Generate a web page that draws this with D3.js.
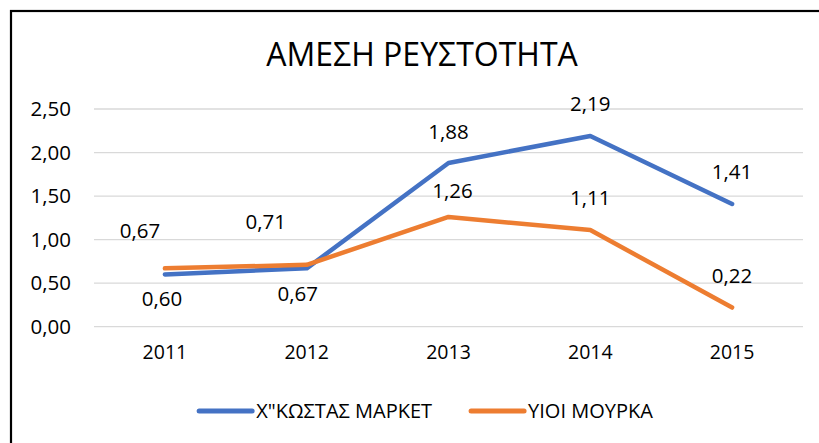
<!DOCTYPE html>
<html>
<head>
<meta charset="utf-8">
<script src="https://cdn.jsdelivr.net/npm/d3@7"></script>
<style>
  body { margin: 0; background: #fff; }
  text { font-family: "Open Sans", sans-serif; fill: #000; }
</style>
</head>
<body>
<script>
// chart data
var years = ["2011", "2012", "2013", "2014", "2015"];
var seriesNames = ["Χ\"ΚΩΣΤΑΣ ΜΑΡΚΕΤ", "ΥΙΟΙ ΜΟΥΡΚΑ"];
var kostasValues = [0.60, 0.67, 1.88, 2.19, 1.41];
var mourkaValues = [0.67, 0.71, 1.26, 1.11, 0.22];
var yTicks = [0, 0.5, 1, 1.5, 2, 2.5];
var title = "ΑΜΕΣΗ ΡΕΥΣΤΟΤΗΤΑ";

// label placement (label centre relative to the point), as in the original
var kostasLabelOffsets = [[-3, 24], [-9, 25], [0, -31], [0, -32], [0, -32]];
var mourkaLabelOffsets = [[-25, -38], [-41, -43], [4, -26], [0, -32], [0, -32]];

var colors = ["#4472C4", "#ED7D31"];

var width = 819, height = 443;

var svg = d3.select("body").append("svg")
    .attr("width", width)
    .attr("height", height);

// outer chart border (right and bottom fall outside the picture)
svg.append("rect")
    .attr("x", 11)
    .attr("y", 11)
    .attr("width", 900)
    .attr("height", 600)
    .attr("fill", "none")
    .attr("stroke", "#000")
    .attr("stroke-width", 2.2);

var x = d3.scaleBand()
    .domain(years)
    .range([94, 803]);

var y = d3.scaleLinear()
    .domain([0, 2.5])
    .range([326.7, 109]);

var fmt = function(v) { return d3.format(".2f")(v).replace(".", ","); };

svg.append("text")
    .attr("x", 422)
    .attr("y", 66)
    .attr("text-anchor", "middle")
    .attr("font-size", 32)
    .attr("font-weight", 400)
    .text(title);

// gridlines
svg.selectAll(".grid")
    .data(yTicks)
    .enter().append("line")
    .attr("x1", 94)
    .attr("x2", 803)
    .attr("y1", function(d) { return y(d); })
    .attr("y2", function(d) { return y(d); })
    .attr("stroke", "#D9D9D9")
    .attr("stroke-width", 1.3);

// y axis labels
var yAxis = d3.axisLeft(y)
    .tickValues(yTicks)
    .tickSize(0)
    .tickPadding(0)
    .tickFormat(fmt);

var yg = svg.append("g")
    .attr("transform", "translate(71,0)")
    .call(yAxis);
yg.select(".domain").remove();
yg.selectAll("text")
    .attr("font-size", 20.5)
    .attr("font-family", "Open Sans")
    .attr("fill", "#000");

// x axis labels
var xAxis = d3.axisBottom(x)
    .tickSize(0)
    .tickPadding(0);

var xg = svg.append("g")
    .attr("transform", "translate(0,345)")
    .call(xAxis);
xg.select(".domain").remove();
xg.selectAll("text")
    .attr("font-size", 19.5)
    .attr("font-family", "Open Sans")
    .attr("fill", "#000");

var line = d3.line()
    .x(function(d, i) { return x(years[i]) + x.bandwidth() / 2; })
    .y(function(d) { return y(d); });

var allSeries = [
  { name: seriesNames[0], values: kostasValues, offsets: kostasLabelOffsets, color: colors[0] },
  { name: seriesNames[1], values: mourkaValues, offsets: mourkaLabelOffsets, color: colors[1] }
];

allSeries.forEach(function(s) {
  svg.append("path")
      .datum(s.values)
      .attr("d", line)
      .attr("fill", "none")
      .attr("stroke", s.color)
      .attr("stroke-width", 4.5)
      .attr("stroke-linecap", "round")
      .attr("stroke-linejoin", "round");
});

allSeries.forEach(function(s) {
  svg.selectAll(null)
      .data(s.values)
      .enter().append("text")
      .attr("x", function(d, i) { return x(years[i]) + x.bandwidth() / 2 + s.offsets[i][0]; })
      .attr("y", function(d, i) { return y(d) + s.offsets[i][1]; })
      .attr("dy", "0.36em")
      .attr("text-anchor", "middle")
      .attr("font-size", 20.5)
      .text(fmt);
});

// legend
var legend = svg.append("g");
var lx = 0;
allSeries.forEach(function(s, i) {
  var item = legend.append("g").attr("transform", "translate(" + lx + ",0)");
  item.append("line")
      .attr("x1", 2).attr("x2", 55)
      .attr("y1", 0).attr("y2", 0)
      .attr("stroke", s.color)
      .attr("stroke-width", 5)
      .attr("stroke-linecap", "round");
  var t = item.append("text")
      .attr("x", 59)
      .attr("dy", "0.36em")
      .attr("font-size", 20)
      .text(s.name);
  lx += 59 + t.node().getComputedTextLength() + 37;
});
var legendWidth = lx - 37;
legend.attr("transform", "translate(" + (425 - legendWidth / 2) + ",411)");
</script>
</body>
</html>
